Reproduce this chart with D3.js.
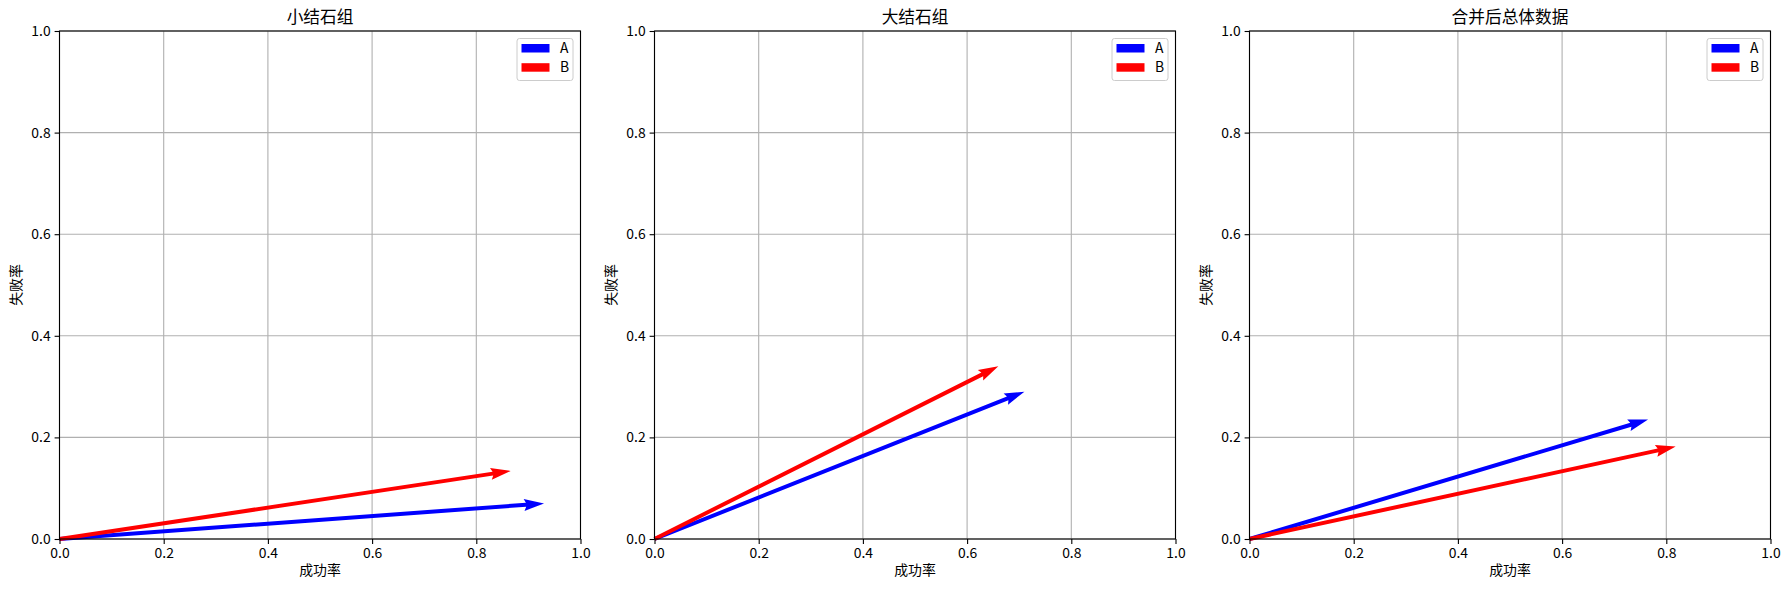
<!DOCTYPE html>
<html><head><meta charset="utf-8">
<script src="https://cdn.jsdelivr.net/npm/d3@7"></script>
<style>
body{margin:0;background:#fff;}
svg{display:block;font-family:"Noto Sans CJK SC","DejaVu Sans",sans-serif;}
</style></head>
<body><svg id="chart" width="1789" height="589"></svg>
<script>
// ---- data ----
const panelTitles = ["小结石组", "大结石组", "合并后总体数据"];
const seriesNames = ["A", "B"];
const seriesColors = ["#0000ff", "#ff0000"];
const successA = [0.93, 0.71, 0.765];
const failA    = [0.07, 0.29, 0.235];
const successB = [0.866, 0.66, 0.818];
const failB    = [0.134, 0.34, 0.182];
const tickValues = [0, 0.2, 0.4, 0.6, 0.8, 1.0];
const xLabel = "成功率";
const yLabel = "失败率";

const series = [
  {name: seriesNames[0], color: seriesColors[0], u: successA, v: failA},
  {name: seriesNames[1], color: seriesColors[1], u: successB, v: failB}
];

// ---- layout ----
const svg = d3.select("#chart");
const panelLefts = [59.5, 654.5, 1249.5];
const pw = 521, pTop = 31, ph = 508;
const fmt = d3.format(".1f");

panelLefts.forEach((left, i) => {
  const x = d3.scaleLinear().domain([0, 1]).range([left, left + pw]);
  const y = d3.scaleLinear().domain([0, 1]).range([pTop + ph, pTop]);
  const g = svg.append("g");

  // grid
  g.append("g").selectAll("line").data(tickValues).join("line")
    .attr("x1", d => x(d)).attr("x2", d => x(d))
    .attr("y1", pTop).attr("y2", pTop + ph)
    .attr("stroke", "#b0b0b0").attr("stroke-width", 1.1);
  g.append("g").selectAll("line").data(tickValues).join("line")
    .attr("y1", d => y(d)).attr("y2", d => y(d))
    .attr("x1", left).attr("x2", left + pw)
    .attr("stroke", "#b0b0b0").attr("stroke-width", 1.1);

  // arrows (quiver)
  const w = 4, hl = 5 * w, ha = 4.5 * w, hw = 1.5 * w;
  series.forEach(s => {
    const x0 = x(0), y0 = y(0), x1 = x(s.u[i]), y1 = y(s.v[i]);
    const dx = x1 - x0, dy = y1 - y0, L = Math.hypot(dx, dy);
    const ux = dx / L, uy = dy / L, nx = -uy, ny = ux;
    const pt = (t, sN) => [x0 + ux * t + nx * sN, y0 + uy * t + ny * sN];
    const pts = [pt(0, -w/2), pt(L - ha, -w/2), pt(L - hl, -hw), pt(L, 0),
                 pt(L - hl, hw), pt(L - ha, w/2), pt(0, w/2)];
    g.append("path").attr("d", d3.line()(pts) + "Z").attr("fill", s.color);
  });

  // axes
  const xAxis = d3.axisBottom(x).tickValues(tickValues).tickFormat(fmt).tickSize(4.9).tickPadding(4);
  const yAxis = d3.axisLeft(y).tickValues(tickValues).tickFormat(fmt).tickSize(4.9).tickPadding(4);
  const gx = g.append("g").attr("transform", `translate(0,${pTop + ph})`).call(xAxis);
  const gy = g.append("g").attr("transform", `translate(${left},0)`).call(yAxis);
  [gx, gy].forEach(a => {
    a.select(".domain").remove();
    a.selectAll("line").attr("stroke", "#000").attr("stroke-width", 1.1);
    a.selectAll("text").attr("font-size", 13.9).attr("fill", "#000")
      .attr("font-family", '"Noto Sans CJK SC", sans-serif');
  });
  // frame
  g.append("rect").attr("x", left).attr("y", pTop).attr("width", pw).attr("height", ph)
    .attr("fill", "none").attr("stroke", "#000").attr("stroke-width", 1.1);

  // title & labels
  g.append("text").attr("x", left + pw / 2).attr("y", pTop - 8.5)
    .attr("text-anchor", "middle").attr("font-size", 16.7).attr("fill", "#000")
    .text(panelTitles[i]);
  g.append("text").attr("x", left + pw / 2).attr("y", 575)
    .attr("text-anchor", "middle").attr("font-size", 13.9).attr("fill", "#000")
    .text(xLabel);
  g.append("text")
    .attr("transform", `translate(${left - 39},${pTop + ph / 2}) rotate(-90)`)
    .attr("text-anchor", "middle").attr("font-size", 13.9).attr("fill", "#000")
    .text(yLabel);

  // legend
  const lr = left + pw - 7.5;
  const lg = g.append("g").attr("transform", `translate(${lr - 56},38.5)`);
  lg.append("rect").attr("x", 0).attr("y", 0).attr("width", 56).attr("height", 42)
    .attr("rx", 2.5).attr("fill", "#fff").attr("fill-opacity", 0.8)
    .attr("stroke", "#cccccc").attr("stroke-width", 1);
  series.forEach((s, k) => {
    lg.append("rect").attr("x", 4.5).attr("y", 5.5 + k * 19.2).attr("width", 28).attr("height", 8.5)
      .attr("fill", s.color);
    lg.append("text").attr("x", 43).attr("y", 14.5 + k * 19.2)
      .attr("font-size", 13.9).attr("fill", "#000").text(s.name);
  });
});
</script>
</body></html>
